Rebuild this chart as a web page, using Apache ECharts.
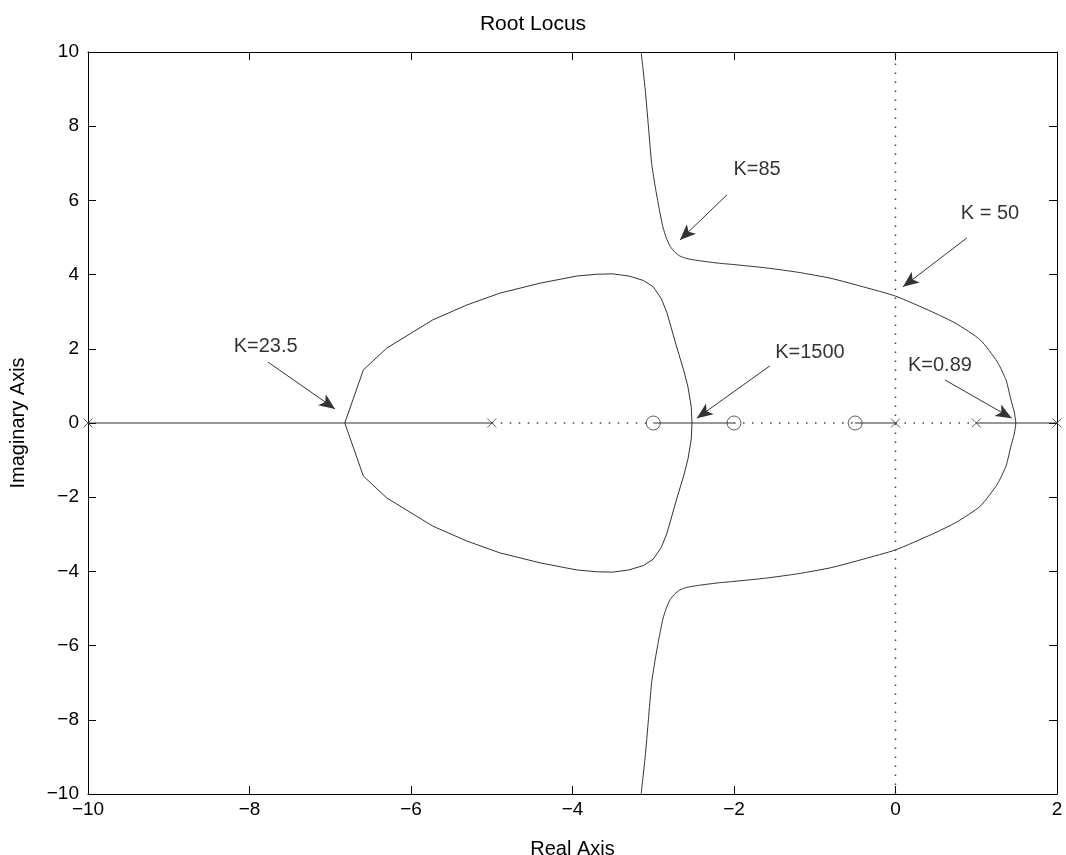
<!DOCTYPE html>
<html><head><meta charset="utf-8">
<script src="https://cdn.jsdelivr.net/npm/echarts@6/dist/echarts.min.js"></script>
<style>html,body{margin:0;padding:0;background:#fff}#c{width:1066px;height:855px}</style>
</head><body><div id="c"></div>
<script>
// Tick labels
const xTicks = [-10, -8, -6, -4, -2, 0, 2];
const yTicks = [-10, -8, -6, -4, -2, 0, 2, 4, 6, 8, 10];

// Outer branch: from top (K->inf asymptote) round the right to bottom
const outerUpper = [[-3.15,10],[-3.10,9],[-3.06,8],[-3.02,7],[-2.97,6.3],[-2.92,5.7],[-2.88,5.28],[-2.84,5.0],[-2.79,4.76],[-2.73,4.6],[-2.67,4.5],[-2.58,4.43],[-2.45,4.38],[-2.2,4.31],[-2.0,4.27],[-1.6,4.18],[-1.2,4.06],[-0.8,3.9],[-0.4,3.67],[0,3.42],[0.45,3.0],[0.75,2.68],[1.05,2.24],[1.26,1.65],[1.37,1.15],[1.43,0.62],[1.47,0.3],[1.49,0]];
const outerLower = [[1.49,0],[1.47,-0.3],[1.43,-0.62],[1.37,-1.15],[1.26,-1.65],[1.05,-2.24],[0.75,-2.68],[0.45,-3.0],[0,-3.42],[-0.4,-3.67],[-0.8,-3.9],[-1.2,-4.06],[-1.6,-4.18],[-2.0,-4.27],[-2.2,-4.31],[-2.45,-4.38],[-2.58,-4.43],[-2.67,-4.5],[-2.73,-4.6],[-2.79,-4.76],[-2.84,-5.0],[-2.88,-5.28],[-2.92,-5.7],[-2.97,-6.3],[-3.02,-7],[-3.06,-8],[-3.10,-9],[-3.15,-10]];

// Inner closed loop
const innerUpper = [[-6.82,0],[-6.59,1.43],[-6.30,2.02],[-5.73,2.78],[-5.31,3.18],[-4.90,3.50],[-4.40,3.77],[-3.95,3.96],[-3.70,4.01],[-3.50,4.02],[-3.30,3.96],[-3.12,3.84],[-3.00,3.67],[-2.90,3.35],[-2.83,2.97],[-2.71,2.05],[-2.62,1.4],[-2.57,0.97],[-2.53,0.45],[-2.52,0]];
const innerLower = [[-2.52,0],[-2.53,-0.45],[-2.57,-0.97],[-2.62,-1.4],[-2.71,-2.05],[-2.83,-2.97],[-2.90,-3.35],[-3.00,-3.67],[-3.12,-3.84],[-3.30,-3.96],[-3.50,-4.02],[-3.70,-4.01],[-3.95,-3.96],[-4.40,-3.77],[-4.90,-3.50],[-5.31,-3.18],[-5.73,-2.78],[-6.30,-2.02],[-6.59,-1.43],[-6.82,0]];

// Real-axis segments
const solidSegments = [[[-10,0],[-5,0]], [[-3,0],[-2,0]], [[-0.5,0],[0,0]], [[1,0],[2,0]]];
const dottedSegments = [[[-5,0],[-3,0]], [[-2,0],[-0.5,0]], [[0,0],[1,0]], [[0,-10],[0,10]]];

// Poles and zeros
const poles = [[-10,0],[-5,0],[0,0],[1,0],[2,0]];
const zeros = [[-3,0],[-2,0],[-0.5,0]];

// Annotations: text and arrows (tail -> head)
const labels = [[-1.715,6.82,'K=85'],[1.17,5.66,'K = 50'],[-7.80,2.05,'K=23.5'],[-1.06,1.91,'K=1500'],[0.55,1.54,'K=0.89']];
const arrows = [
  [[-2.087,6.15],[-2.67,4.93]],
  [[0.885,4.99],[0.093,3.67]],
  [[-7.77,1.64],[-6.94,0.38]],
  [[-1.555,1.54],[-2.46,0.13]],
  [[0.613,1.16],[1.44,0.13]]
];

const FONT = 'Liberation Sans, Arial, sans-serif';
const fmt = v => String(v).replace('-', '\u2212');
const lineCol = '#333';

const series = [];
series.push({type:'line', data: outerUpper.concat(outerLower), showSymbol:false, smooth:0.2, lineStyle:{color:lineCol,width:1}, silent:true});
series.push({type:'line', data: innerUpper.concat(innerLower), showSymbol:false, lineStyle:{color:lineCol,width:1}, silent:true});
solidSegments.forEach(s => series.push({type:'line', data:s, showSymbol:false, lineStyle:{color:lineCol,width:1}, silent:true}));
dottedSegments.forEach(s => series.push({type:'line', data:s, showSymbol:false, lineStyle:{color:'#444',width:1.5,type:[1.5,7.5]}, silent:true}));
series.push({type:'scatter', data:poles, symbol:'path://M0,0L10,10M10,0L0,10', symbolSize:9,
  itemStyle:{color:'none', borderColor:lineCol, borderWidth:1}, silent:true, z:5});
series.push({type:'scatter', data:zeros, symbol:'circle', symbolSize:14,
  itemStyle:{color:'none', borderColor:lineCol, borderWidth:1}, silent:true, z:5});
series.push({type:'scatter', data:labels, symbolSize:0, silent:true,
  label:{show:true, position:'inside', formatter:p=>p.value[2], color:'#000', fontSize:20, fontFamily:FONT}});
series.push({type:'line', data:[], silent:true,
  markLine:{silent:true, animation:false, symbol:['none','arrow'], symbolSize:[10,16],
    label:{show:false}, lineStyle:{color:'#333', width:1, type:'solid'},
    emphasis:{disabled:true},
    data: arrows.map(a => [{coord:a[0]},{coord:a[1]}])}});

const axisCommon = {
  axisLine:{show:true, onZero:false, lineStyle:{color:'#000', width:1}},
  axisTick:{show:true, inside:true, length:8, lineStyle:{color:'#000'}},
  splitLine:{show:false}
};

const option = {
  animation:false,
  backgroundColor:'#fff',
  title:{text:'Root Locus', left:'center', top:9, textStyle:{fontSize:21, fontWeight:'normal', color:'#000', fontFamily:FONT}},
  grid:{left:88, right:9, top:52, bottom:61, containLabel:false, outerBoundsMode:'none'},
  xAxis:[
    Object.assign({}, axisCommon, {type:'value', position:'bottom', min:xTicks[0], max:xTicks[xTicks.length-1], interval:2,
      name:'Real Axis', nameLocation:'middle', nameGap:45, nameTextStyle:{fontSize:20, color:'#000', fontFamily:FONT},
      axisLabel:{show:true, color:'#000', fontSize:19, fontFamily:FONT, margin:6, formatter:fmt}}),
    Object.assign({}, axisCommon, {type:'value', position:'top', min:xTicks[0], max:xTicks[xTicks.length-1], interval:2,
      axisLabel:{show:false}})
  ],
  yAxis:[
    Object.assign({}, axisCommon, {type:'value', position:'left', min:yTicks[0], max:yTicks[yTicks.length-1], interval:2,
      name:'Imaginary Axis', nameLocation:'middle', nameGap:60, nameRotate:90, nameTextStyle:{fontSize:20, color:'#000', fontFamily:FONT},
      axisLabel:{show:true, color:'#000', fontSize:19, fontFamily:FONT, margin:9, formatter:fmt}}),
    Object.assign({}, axisCommon, {type:'value', position:'right', min:yTicks[0], max:yTicks[yTicks.length-1], interval:2,
      axisLabel:{show:false}})
  ],
  series: series
};
const chart = echarts.init(document.getElementById('c'), null, {renderer:'canvas'});
chart.setOption(option);
</script>
</body></html>
